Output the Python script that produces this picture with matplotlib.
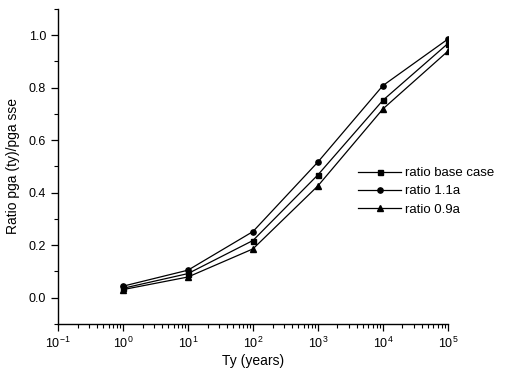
import numpy as np
import matplotlib
matplotlib.use("Agg")
import matplotlib.pyplot as plt
from matplotlib.ticker import LogLocator, MultipleLocator, NullFormatter, FormatStrFormatter

plt.rcParams.update({
    "font.family": ["Liberation Sans", "DejaVu Sans"],
    "font.size": 9,
    "axes.linewidth": 1.0,
    "mathtext.fontset": "custom",
    "mathtext.rm": "Liberation Sans",
    "mathtext.it": "Liberation Sans:italic",
    "mathtext.bf": "Liberation Sans:bold",
})

ty = [1, 10, 100, 1000, 10000, 100000]
base_case = [0.036, 0.092, 0.218, 0.468, 0.752, 0.968]
ratio_11a = [0.044, 0.105, 0.252, 0.517, 0.808, 0.985]
ratio_09a = [0.031, 0.079, 0.186, 0.426, 0.719, 0.939]
x_ticks = [1e-1, 1e0, 1e1, 1e2, 1e3, 1e4, 1e5]
x_labels = [r"$10^{-1}$", r"$10^{0}$", r"$10^{1}$", r"$10^{2}$", r"$10^{3}$",
            r"$10^{4}$", r"$10^{5}$"]

fig = plt.figure(figsize=(5.07, 3.76), dpi=100)
ax = fig.add_axes([0.1144, 0.1383, 0.769, 0.838])

ax.plot(ty, base_case, color="black", lw=0.9, marker="s", ms=3.6, label="ratio base case")
ax.plot(ty, ratio_11a, color="black", lw=0.9, marker="o", ms=3.8, label="ratio 1.1a")
ax.plot(ty, ratio_09a, color="black", lw=0.9, marker="^", ms=4.2, label="ratio 0.9a")

ax.set_xscale("log")
ax.set_xlim(0.1, 1e5)
ax.set_ylim(-0.1, 1.1)
ax.set_xticks(x_ticks)
ax.set_xticklabels(x_labels)
ax.yaxis.set_major_locator(MultipleLocator(0.2))
ax.yaxis.set_minor_locator(MultipleLocator(0.1))
ax.xaxis.set_minor_locator(LogLocator(base=10, subs=np.arange(2, 10), numticks=20))
ax.xaxis.set_minor_formatter(NullFormatter())
ax.yaxis.set_major_formatter(FormatStrFormatter("%.1f"))

for s in ("top", "right"):
    ax.spines[s].set_visible(False)
ax.tick_params(which="major", direction="out", length=5, width=0.9, labelsize=9)
ax.tick_params(which="minor", direction="out", length=3, width=0.8)

ax.set_xlabel("Ty (years)", fontsize=10, labelpad=2)
ax.set_ylabel("Ratio pga (ty)/pga sse", fontsize=10, labelpad=6)

ax.legend(loc="upper left", bbox_to_anchor=(0.757, 0.515), frameon=False,
          fontsize=9.5, handlelength=3.2, handletextpad=0.3, labelspacing=0.45,
          borderaxespad=0)

fig.savefig("out.png", dpi=100)
